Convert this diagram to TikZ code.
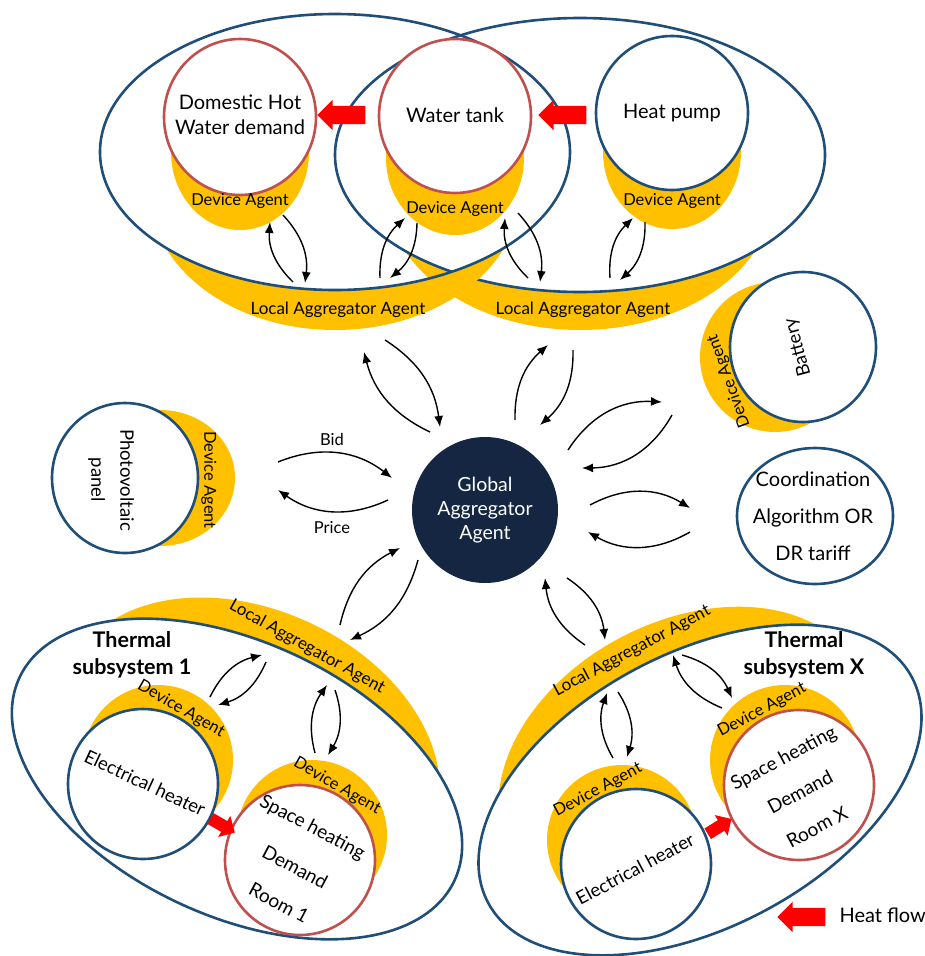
\documentclass[tikz,border=0pt]{standalone}
\usepackage{fontspec}
\setmainfont{Lato}
\usetikzlibrary{positioning,arrows.meta,shapes.geometric,shapes.arrows}

\definecolor{ringblue}{RGB}{31,78,121}
\definecolor{ringred}{RGB}{192,80,77}
\definecolor{agentyellow}{RGB}{255,192,0}
\definecolor{globalnavy}{RGB}{20,38,66}

% yellow band of an aggregator: first shape, outside the second one
\newcommand{\agentband}[2]{%
  \begin{scope}[even odd rule]
    \clip (0,0) rectangle (925,-956) #2;
    \fill[agentyellow] #1;
  \end{scope}}

\begin{document}
\begin{tikzpicture}[x=1pt, y=1pt,
  ring/.style={draw=ringblue, line width=2.6pt},
  demandring/.style={draw=ringred, line width=2.6pt},
  moon/.style={fill=agentyellow},
  devlabel/.style={font=\fontsize{20}{25}\selectfont, align=center},
  roomlabel/.style={font=\fontsize{19}{22}\selectfont},
  agentlabel/.style={font=\fontsize{16.5}{19}\selectfont},
  laalabel/.style={font=\fontsize{17}{20}\selectfont},
  sublabel/.style={font=\bfseries\fontsize{21.5}{27}\selectfont, align=center},
  flow/.style={-{Latex[length=11pt,width=9pt]}, line width=1.4pt, bend left=25},
  heat/.style={single arrow, fill=red, inner sep=0pt, inner ysep=9pt, minimum height=48pt,
    single arrow head extend=6pt, single arrow tip angle=90},
  smallheat/.style={heat, inner ysep=6pt, minimum height=28pt, single arrow head extend=6pt}]

\useasboundingbox (0,0) rectangle (925,-956);

% top aggregators
\agentband{(580,-193) ellipse [x radius=193, y radius=137]}{(580,-155) ellipse [x radius=245, y radius=137]}
\draw[ring] (580,-155) ellipse [x radius=245, y radius=137];
\agentband{(335,-192) ellipse [x radius=185, y radius=138]}{(335,-152) ellipse [x radius=235, y radius=138]}
\draw[ring] (335,-152) ellipse [x radius=235, y radius=138];

\node[laalabel] (laaleft) at (338,-310) {Local Aggregator Agent};
\node[laalabel] (laaright) at (583,-310) {Local Aggregator Agent};

% top devices
\fill[moon] (240,-152) ellipse [x radius=69, y radius=78];
\draw[demandring, fill=white] (240,-117) ellipse [x radius=76, y radius=78];
\fill[moon] (455,-158) ellipse [x radius=69, y radius=77];
\draw[demandring, fill=white] (455,-116) ellipse [x radius=76, y radius=77];
\fill[moon] (672,-152) ellipse [x radius=69, y radius=77];
\draw[ring, fill=white] (672,-113) ellipse [x radius=76, y radius=77];

\node[devlabel] (dhw) at (240,-115) {Domestic Hot\\Water demand};
\node[devlabel] (tank) at (455,-115) {Water tank};
\node[devlabel] (pump) at (672,-113) {Heat pump};
\node[agentlabel] (dhwagent) at (240,-201) {Device Agent};
\node[agentlabel] (tankagent) at (455,-209) {Device Agent};
\node[agentlabel] (pumpagent) at (672,-201) {Device Agent};

\node[heat, rotate=180] (heattank) at (346,-115) {};
\node[heat, rotate=180] (heatpump) at (567,-115) {};

% battery and photovoltaic panel
\fill[moon] (775,-357) circle [radius=75];
\draw[ring, fill=white] (803,-347) ellipse [x radius=73, y radius=75];
\node[devlabel, font=\fontsize{18.5}{22}\selectfont, rotate=105] (battery) at (798,-347) {Battery};
\node[agentlabel, rotate=110] (batagent) at (729,-381) {Device Agent};

\fill[moon] (160,-478) ellipse [x radius=75, y radius=68];
\draw[ring, fill=white] (125,-478) ellipse [x radius=73, y radius=75];
\node[devlabel, font=\fontsize{18.5}{29}\selectfont, rotate=-90] (pv) at (111,-480) {Photovoltaic\\panel};
\node[agentlabel, rotate=-90] (pvagent) at (209,-480) {Device Agent};

% global aggregator and coordination
\node[circle, fill=globalnavy, minimum size=146pt, text=white, align=center,
  font=\fontsize{19.5}{24}\selectfont] (gaa) at (485,-510) {Global\\Aggregator\\Agent};
\draw[ring, fill=white] (815,-516) ellipse [x radius=78, y radius=68];
\node[devlabel, font=\fontsize{20}{37}\selectfont] (coord) at (813,-516) {Coordination\\Algorithm OR\\DR tariff};

\node[font=\fontsize{16.5}{19}\selectfont] (bid) at (332,-439) {Bid};
\node[font=\fontsize{16.5}{19}\selectfont] (price) at (332,-528) {Price};

% thermal subsystem 1
\agentband{(252,-747) ellipse [x radius=197, y radius=137, rotate=-25]}{(237,-779) ellipse [x radius=240, y radius=137, rotate=-25]}
\draw[ring] (237,-779) ellipse [x radius=240, y radius=137, rotate=-25];
\node[laalabel, rotate=-29] (laasub1) at (307,-647) {Local Aggregator Agent};
\node[sublabel] (sub1) at (132,-655) {Thermal\\subsystem 1};

\fill[moon] (158,-760) circle [radius=75];
\draw[ring, fill=white] (143,-784) circle [radius=75];
\fill[moon] (312,-835) circle [radius=75];
\draw[demandring, fill=white] (300,-860) circle [radius=75];
\node[agentlabel, rotate=-30] (heater1agent) at (181,-709) {Device Agent};
\node[agentlabel, rotate=-30] (room1agent) at (337,-786) {Device Agent};
\node[roomlabel, font=\fontsize{18.5}{22}\selectfont, rotate=-25] (heater1) at (145,-783) {Electrical heater};
\node[roomlabel, rotate=-28] (room1a) at (312,-828) {Space heating};
\node[roomlabel, rotate=-28] (room1b) at (295,-867) {Demand};
\node[roomlabel, rotate=-28] (room1c) at (279,-903) {Room 1};
\node[smallheat, rotate=-30] (heatroom1) at (220,-824) {};

% thermal subsystem X
\agentband{(684,-759) ellipse [x radius=197, y radius=137, rotate=28]}{(700,-790) ellipse [x radius=240, y radius=137, rotate=28]}
\draw[ring] (700,-790) ellipse [x radius=240, y radius=137, rotate=28];
\node[laalabel, rotate=28] (laasubx) at (632,-651) {Local Aggregator Agent};
\node[sublabel] (subx) at (804,-655) {Thermal\\subsystem X};

\fill[moon] (622,-840) circle [radius=75];
\draw[ring, fill=white] (636,-864) circle [radius=75];
\fill[moon] (785,-760) circle [radius=75];
\draw[demandring, fill=white] (799,-785) circle [radius=75];
\node[agentlabel, rotate=28] (heaterxagent) at (598,-790) {Device Agent};
\node[agentlabel, rotate=28] (roomxagent) at (762,-710) {Device Agent};
\node[roomlabel, font=\fontsize{18.5}{22}\selectfont, rotate=28] (heaterx) at (635,-869) {Electrical heater};
\node[roomlabel, rotate=28] (roomxa) at (784,-759) {Space heating};
\node[roomlabel, rotate=28] (roomxb) at (800,-792) {Demand};
\node[roomlabel, rotate=28] (roomxc) at (817,-827) {Room X};
\node[smallheat, rotate=32] (heatroomx) at (717,-828) {};

% legend
\node[heat, rotate=180] (heatkey) at (806,-917) {};
\node[font=\fontsize{20}{24}\selectfont, anchor=west] (heatkeytext) at (836,-915) {Heat flow};

% arrow ends
\coordinate (dhwL1) at (293,-282); \coordinate (dhwU1) at (270,-222);
\coordinate (dhwU2) at (283,-215); \coordinate (dhwL2) at (305,-283);
\coordinate (tankL1) at (380,-278); \coordinate (tankU1) at (405,-218);
\coordinate (tankU2) at (417,-223); \coordinate (tankL2) at (390,-278);
\coordinate (tankL3) at (528,-278); \coordinate (tankU3) at (505,-218);
\coordinate (tankU4) at (518,-213); \coordinate (tankL4) at (540,-282);
\coordinate (pumpL1) at (610,-278); \coordinate (pumpU1) at (633,-218);
\coordinate (pumpU2) at (645,-222); \coordinate (pumpL2) at (620,-280);

\coordinate (laaA1) at (385,-340); \coordinate (gaaA1) at (440,-427);
\coordinate (gaaA2) at (430,-432); \coordinate (laaA2) at (364,-352);
\coordinate (gaaB1) at (515,-420); \coordinate (laaB1) at (548,-345);
\coordinate (laaB2) at (573,-350); \coordinate (gaaB2) at (540,-425);
\coordinate (gaaC1) at (568,-450); \coordinate (batC1) at (662,-402);
\coordinate (batC2) at (672,-415); \coordinate (gaaC2) at (582,-468);
\coordinate (gaaD1) at (590,-505); \coordinate (algD1) at (690,-508);
\coordinate (algD2) at (690,-532); \coordinate (gaaD2) at (588,-532);
\coordinate (pvE1) at (278,-462); \coordinate (gaaE1) at (392,-478);
\coordinate (gaaE2) at (388,-500); \coordinate (pvE2) at (278,-490);
\coordinate (laaF1) at (340,-625); \coordinate (gaaF1) at (400,-548);
\coordinate (gaaF2) at (418,-560); \coordinate (laaF2) at (350,-640);
\coordinate (laaG1) at (585,-645); \coordinate (gaaG1) at (545,-578);
\coordinate (gaaG2) at (567,-578); \coordinate (laaG2) at (605,-640);

\coordinate (ehH1) at (210,-697); \coordinate (laaH1) at (262,-655);
\coordinate (laaH2) at (266,-662); \coordinate (ehH2) at (218,-705);
\coordinate (shdI1) at (315,-753); \coordinate (laaI1) at (327,-685);
\coordinate (laaI2) at (335,-690); \coordinate (shdI2) at (328,-755);
\coordinate (ehJ1) at (613,-758); \coordinate (laaJ1) at (607,-693);
\coordinate (laaJ2) at (618,-692); \coordinate (ehJ2) at (627,-757);
\coordinate (shdK1) at (722,-708); \coordinate (laaK1) at (673,-655);
\coordinate (laaK2) at (682,-655); \coordinate (shdK2) at (732,-698);

% messages
\draw[flow] (dhwL1) to (dhwU1);
\draw[flow] (dhwU2) to (dhwL2);
\draw[flow] (tankL1) to (tankU1);
\draw[flow] (tankU2) to (tankL2);
\draw[flow] (tankL3) to (tankU3);
\draw[flow] (tankU4) to (tankL4);
\draw[flow] (pumpL1) to (pumpU1);
\draw[flow] (pumpU2) to (pumpL2);

\draw[flow] (laaA1) to (gaaA1);
\draw[flow] (gaaA2) to (laaA2);
\draw[flow] (gaaB1) to (laaB1);
\draw[flow] (laaB2) to (gaaB2);
\draw[flow, bend left=30] (gaaC1) to (batC1);
\draw[flow, bend left=30] (batC2) to (gaaC2);
\draw[flow, bend left=30] (gaaD1) to (algD1);
\draw[flow, bend left=30] (algD2) to (gaaD2);
\draw[flow, bend left=30] (pvE1) to (gaaE1);
\draw[flow, bend left=30] (gaaE2) to (pvE2);
\draw[flow] (laaF1) to (gaaF1);
\draw[flow] (gaaF2) to (laaF2);
\draw[flow] (laaG1) to (gaaG1);
\draw[flow] (gaaG2) to (laaG2);

\draw[flow] (ehH1) to (laaH1);
\draw[flow] (laaH2) to (ehH2);
\draw[flow] (shdI1) to (laaI1);
\draw[flow] (laaI2) to (shdI2);
\draw[flow] (ehJ1) to (laaJ1);
\draw[flow] (laaJ2) to (ehJ2);
\draw[flow] (shdK1) to (laaK1);
\draw[flow] (laaK2) to (shdK2);
\end{tikzpicture}
\end{document}
